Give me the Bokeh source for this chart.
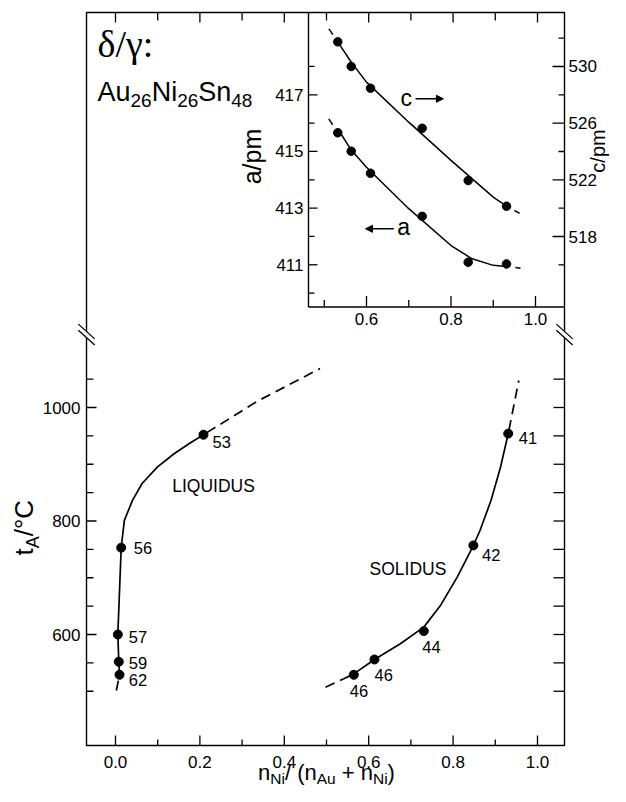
import math
from bokeh.plotting import figure
from bokeh.models import Range1d, Label, Arrow, NormalHead, ColumnDataSource
from bokeh.embed import file_html
from bokeh.resources import INLINE
from bokeh.core.properties import value

# ---------------- data: main diagram ----------------
liq_x = [0.2085, 0.0135, 0.0055, 0.0078, 0.0095]
liq_t = [952, 753, 600, 552, 529]
liq_lab = ["53", "56", "57", "59", "62"]
sol_x = [0.9306, 0.848, 0.7306, 0.6137, 0.5647]
sol_t = [954, 757, 606, 556, 529]
sol_lab = ["41", "42", "44", "46", "46"]

liq_curve_x = [0.0095, 0.0078, 0.0055, 0.0135, 0.021, 0.040, 0.063, 0.099, 0.138, 0.174, 0.2085]
liq_curve_t = [529, 552, 600, 753, 801, 836, 866, 895, 918, 936, 952]
liq_ext_hi_x = [0.2085, 0.335, 0.4846]
liq_ext_hi_t = [952, 1010.6, 1068.5]
liq_ext_lo_x = [0.0095, 0.0016]
liq_ext_lo_t = [529, 500]

sol_curve_x = [0.541, 0.5647, 0.6137, 0.675, 0.7306, 0.770, 0.8097, 0.848, 0.8637, 0.8898, 0.9123, 0.9306]
sol_curve_t = [522, 530.6, 556, 583.6, 613, 651, 701, 756.8, 783.3, 836, 894.8, 953.7]
sol_ext_lo_x = [0.4976, 0.541]
sol_ext_lo_t = [507, 522]
sol_ext_hi_x = [0.9306, 0.9557]
sol_ext_hi_t = [953.7, 1047.6]

x_major = [0.0, 0.2, 0.4, 0.6, 0.8, 1.0]
x_minor = [0.1, 0.3, 0.5, 0.7, 0.9]
t_major = [600, 800, 1000]
t_minor = [500, 550, 650, 700, 750, 850, 900, 950, 1050]
t_right = [500, 550, 600, 650, 700, 750, 800, 850, 900, 950, 1000, 1050]

# ---------------- data: inset (lattice parameters) ----------------
ins_x = [0.532, 0.5638, 0.6095, 0.7318, 0.8407, 0.9314]
ins_c = [531.74, 530.0, 528.47, 525.64, 521.95, 520.14]
ins_a = [415.66, 415.01, 414.23, 412.71, 411.09, 411.03]

c_curve_x = [0.535, 0.564, 0.6, 0.7, 0.8, 0.9, 0.9314]
c_curve_y = [531.6, 530.3, 528.9, 526.07, 523.37, 520.78, 520.14]
c_ext_lo_x = [0.511, 0.532]
c_ext_lo_y = [532.66, 531.74]
c_ext_hi_x = [0.9314, 0.9645]
c_ext_hi_y = [520.14, 519.6]

a_curve_x = [0.5345, 0.564, 0.6, 0.7, 0.8, 0.85, 0.9, 0.9314]
a_curve_y = [415.74, 415.05, 414.44, 412.98, 411.68, 411.21, 410.98, 410.94]
a_ext_lo_x = [0.5108, 0.532]
a_ext_lo_y = [416.15, 415.66]
a_ext_hi_x = [0.9314, 0.9645]
a_ext_hi_y = [410.94, 410.88]

ix_major = [0.6, 0.8, 1.0]
ix_minor = [0.5, 0.7, 0.9]
a_major = [411, 413, 415, 417]
a_minor = [410, 412, 414, 416, 418]
c_major = [518, 522, 526, 530]
c_minor = [516, 520, 524, 528, 532]

FONT = "Liberation Sans"
BLACK = "black"

# frame limits of the diagram (data units)
X0, X1 = -0.0687, 1.064
T0, T1 = 404.4, 1696.0

p = figure(width=610, height=786,
           x_range=Range1d(-0.27251, 1.17299), y_range=Range1d(332.16, 1717.18),
           x_axis_type=None, y_axis_type=None,
           output_backend="svg", toolbar_location=None,
           min_border=0, min_border_left=0, min_border_right=0, min_border_top=0, min_border_bottom=0,
           background_fill_color="white", border_fill_color="white", outline_line_color=None)
p.extra_x_ranges = {"ix": Range1d(-0.26627, 1.17751)}
p.extra_y_ranges = {"a": Range1d(392.584, 420.3287), "c": Range1d(479.177, 534.6587)}
p.grid.visible = False

# ---------------- frame + ticks of the diagram ----------------
p.quad(left=[X0], right=[X1], bottom=[T0], top=[T1], fill_color=None, line_color=BLACK, line_width=1.4)

def ticks(xs, ys, length, angle, xr="default", yr="default"):
    p.ray(x=xs, y=ys, length=length, length_units="screen", angle=angle,
          x_range_name=xr, y_range_name=yr, line_color=BLACK, line_width=1.3)

ticks(x_major, [T0] * len(x_major), 10, math.pi / 2)
ticks(x_minor, [T0] * len(x_minor), 6, math.pi / 2)
ticks(x_major, [T1] * len(x_major), 10, -math.pi / 2)
ticks(x_minor, [T1] * len(x_minor), 8, -math.pi / 2)
ticks([X0] * len(t_major), t_major, 10, 0)
ticks([X0] * len(t_minor), t_minor, 7, 0)
ticks([X1] * len(t_right), t_right, 11, math.pi)
ticks([X1] * len(c_major), c_major, 12, math.pi, yr="c")
ticks([X1] * len(c_minor), c_minor, 6, math.pi, yr="c")

TICKFS = "17px"
p.text(x=x_major, y=[T0] * len(x_major), text=[f"{v:.1f}" for v in x_major], y_offset=16,
       text_font=value(FONT), text_font_size=TICKFS, text_color=BLACK,
       text_align="center", text_baseline="middle")
p.text(x=[X0] * len(t_major), y=t_major, text=[str(v) for v in t_major], x_offset=-6,
       text_font=value(FONT), text_font_size=TICKFS, text_color=BLACK,
       text_align="right", text_baseline="middle")
p.text(x=[X1] * len(c_major), y=c_major, text=[str(v) for v in c_major], x_offset=4, y_range_name="c",
       text_font=value(FONT), text_font_size=TICKFS, text_color=BLACK,
       text_align="left", text_baseline="middle")

# ---------------- main curves ----------------
LW = 1.7
p.line(liq_curve_x, liq_curve_t, line_color=BLACK, line_width=LW)
p.line(liq_ext_hi_x, liq_ext_hi_t, line_color=BLACK, line_width=LW, line_dash="10 6", line_dash_offset=-4)
p.line(liq_ext_lo_x, liq_ext_lo_t, line_color=BLACK, line_width=LW, line_dash="10 6", line_dash_offset=10)
p.line(sol_curve_x, sol_curve_t, line_color=BLACK, line_width=LW)
p.line(sol_ext_lo_x, sol_ext_lo_t, line_color=BLACK, line_width=LW, line_dash="10 6")
p.line(sol_ext_hi_x, sol_ext_hi_t, line_color=BLACK, line_width=LW, line_dash="10 6", line_dash_offset=-4)

p.scatter(liq_x, liq_t, size=9, color=BLACK)
p.scatter(sol_x, sol_t, size=9, color=BLACK)

lab_src = ColumnDataSource(dict(
    x=liq_x + sol_x, y=liq_t + sol_t, text=liq_lab + sol_lab,
    dx=[9, 12.6, 11, 10, 9.3, 10.6, 8.7, -1.6, 0, -4],
    dy=[6.8, 0.5, 2.1, 1.4, 4.8, 4.1, 9.1, 16.1, 15.1, 16.1]))
p.text(x="x", y="y", text="text", x_offset="dx", y_offset="dy", source=lab_src,
       text_font=value(FONT), text_font_size="16.5px", text_color=BLACK,
       text_align="left", text_baseline="middle")

p.add_layout(Label(x=0.1344, y=861.9, text="LIQUIDUS", text_font=FONT, text_font_size="17.5px",
                   text_color=BLACK, text_baseline="middle"))
p.add_layout(Label(x=0.6019, y=715.1, text="SOLIDUS", text_font=FONT, text_font_size="17.5px",
                   text_color=BLACK, text_baseline="middle"))

# ---------------- inset ----------------
IL = 0.4627      # inset left edge (ix units)
IB = 409.51      # inset bottom edge (a units)
p.segment(x0=[IL, IL], y0=[IB, IB], x1=[IL, 1.0686], y1=[419.905, IB],
          x_range_name="ix", y_range_name="a", line_color=BLACK, line_width=1.4)
ticks([IL] * len(a_major), a_major, 9, 0, xr="ix", yr="a")
ticks([IL] * len(a_minor), a_minor, 6, 0, xr="ix", yr="a")
ticks(ix_major, [IB] * len(ix_major), 11, math.pi / 2, xr="ix", yr="a")
ticks(ix_minor, [IB] * len(ix_minor), 7, math.pi / 2, xr="ix", yr="a")
p.text(x=[IL] * len(a_major), y=a_major, text=[str(v) for v in a_major], x_offset=-5,
       x_range_name="ix", y_range_name="a", text_font=value(FONT), text_font_size=TICKFS,
       text_color=BLACK, text_align="right", text_baseline="middle")
p.text(x=ix_major, y=[IB] * len(ix_major), text=[f"{v:.1f}" for v in ix_major], y_offset=12.5,
       x_range_name="ix", y_range_name="a", text_font=value(FONT), text_font_size=TICKFS,
       text_color=BLACK, text_align="center", text_baseline="middle")

ILW = 1.5
p.line(c_curve_x, c_curve_y, x_range_name="ix", y_range_name="c", line_color=BLACK, line_width=ILW)
p.line(c_ext_lo_x, c_ext_lo_y, x_range_name="ix", y_range_name="c", line_color=BLACK, line_width=ILW,
       line_dash="7 40")
p.line(c_ext_hi_x, c_ext_hi_y, x_range_name="ix", y_range_name="c", line_color=BLACK, line_width=ILW,
       line_dash="6 9", line_dash_offset=6)
p.line(a_curve_x, a_curve_y, x_range_name="ix", y_range_name="a", line_color=BLACK, line_width=ILW)
p.line(a_ext_lo_x, a_ext_lo_y, x_range_name="ix", y_range_name="a", line_color=BLACK, line_width=ILW,
       line_dash="7 40")
p.line(a_ext_hi_x, a_ext_hi_y, x_range_name="ix", y_range_name="a", line_color=BLACK, line_width=ILW,
       line_dash="6 9", line_dash_offset=6)
p.scatter(ins_x, ins_c, x_range_name="ix", y_range_name="c", size=8.5, color=BLACK)
p.scatter(ins_x, ins_a, x_range_name="ix", y_range_name="a", size=8.5, color=BLACK)

p.add_layout(Label(x=0.6805, y=527.81, x_range_name="ix", y_range_name="c", text="c",
                   text_font=FONT, text_font_size="23px", text_color=BLACK, text_baseline="middle"))
p.add_layout(Arrow(x_start=0.716, y_start=527.72, x_end=0.782, y_end=527.72,
                   x_range_name="ix", y_range_name="c", line_color=BLACK, line_width=1.5,
                   end=NormalHead(size=7, fill_color=BLACK, line_color=BLACK, line_width=1)))
p.add_layout(Label(x=0.6727, y=412.34, x_range_name="ix", y_range_name="a", text="a",
                   text_font=FONT, text_font_size="23px", text_color=BLACK, text_baseline="middle"))
p.add_layout(Arrow(x_start=0.6646, y_start=412.27, x_end=0.5976, y_end=412.27,
                   x_range_name="ix", y_range_name="a", line_color=BLACK, line_width=1.5,
                   end=NormalHead(size=7, fill_color=BLACK, line_color=BLACK, line_width=1)))

p.add_layout(Label(x=0.3246, y=1442.3, text="a/pm", angle=math.pi / 2, text_font=FONT,
                   text_font_size="25px", text_color=BLACK, text_align="center", text_baseline="middle"))
p.add_layout(Label(x=1.1445, y=1452.0, text="c/pm", angle=math.pi / 2, text_font=FONT,
                   text_font_size="20px", text_color=BLACK, text_align="center", text_baseline="middle"))

# ---------------- titles with subscripts ----------------
WID = {'n': .556, 'N': .722, 'i': .222, '/': .278, '(': .333, ')': .333, 'A': .667, 'u': .556,
       '+': .584, ' ': .278, 't': .278, '°': .4, 'C': .722, 'S': .667, '2': .556, '6': .556,
       '4': .556, '8': .556}

def tw(s, size):
    return sum(WID[ch] for ch in s) * size

def rich(x, y, pieces, size, sub_size, drop, angle=0.0, center=False):
    shift = drop + 0.35 * (size - sub_size)
    total = sum(tw(t, sub_size if s else size) for t, s in pieces)
    off = -total / 2 if center else 0.0
    for txt, sub in pieces:
        fs = sub_size if sub else size
        lead = len(txt) - len(txt.lstrip(" "))
        off += tw(" " * lead, fs)
        body = txt.lstrip(" ")
        d = shift if sub else 0
        if angle == 0.0:
            xo, yo = off, -d
        else:
            xo, yo = d, off
        p.add_layout(Label(x=x, y=y, text=body, x_offset=xo, y_offset=yo, angle=angle,
                           text_font=FONT, text_font_size=f"{fs}px", text_color=BLACK,
                           text_align="left", text_baseline="middle"))
        off += tw(body, fs)

rich(0.5, 356.3, [("n", 0), ("Ni", 1), ("/ (", 0), ("n", 0), ("Au", 1), (" + n", 0), ("Ni", 1), (")", 0)],
     22, 15.5, 3, center=True)
rich(-0.2159, 739.2, [("t", 0), ("A", 1), ("/°C", 0)], 26, 18, 6, angle=math.pi / 2)
rich(-0.04265, 1556.0, [("Au", 0), ("26", 1), ("Ni", 0), ("26", 1), ("Sn", 0), ("48", 1)], 27, 19, 6)
p.add_layout(Label(x=-0.04265, y=1641.4, text="δ/γ:", text_font="Liberation Serif",
                   text_font_size="38px", text_color=BLACK, text_baseline="middle"))

# ---------------- axis break marks ----------------
BT = 1128.6
for xe in (X0, X1):
    p.add_layout(Arrow(x_start=xe - 0.0194, y_start=BT + 13, x_end=xe + 0.0194, y_end=BT - 13,
                       line_color="white", line_width=5, end=None))
    for s in (5.3, -5.3):
        p.add_layout(Arrow(x_start=xe - 0.0194, y_start=BT + 13 + s, x_end=xe + 0.0194, y_end=BT - 13 + s,
                           line_color=BLACK, line_width=1.3, end=None))

open("out.html", "w").write(file_html(p, INLINE))
